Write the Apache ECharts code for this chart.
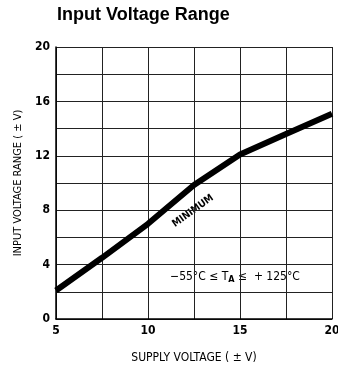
<!DOCTYPE html>
<html>
<head>
<meta charset="utf-8">
<script src="https://cdn.jsdelivr.net/npm/echarts@6/dist/echarts.min.js"></script>
<style>
html,body{margin:0;padding:0;background:#fff;}
#chart{width:338px;height:370px;}
</style>
</head>
<body>
<div id="chart"></div>
<script>
// supply voltage (±V) vs minimum input voltage range (±V)
var supplyV = [5, 7.5, 10, 12.5, 15, 17.5, 20];
var inputRange = [2.1, 4.5, 7.0, 9.85, 12.1, 13.6, 15.1];
var xLabels = [5, 10, 15, 20];
var yLabels = [0, 4, 8, 12, 16, 20];

var narrow = '"DejaVu Sans Condensed","Liberation Sans Narrow","Roboto Condensed",sans-serif';

var myChart = echarts.init(document.getElementById('chart'));
var pts = [];
for (var i = 0; i < supplyV.length; i++) {
    pts.push([supplyV[i], inputRange[i]]);
}
var option = {
    backgroundColor: '#fff',
    animation: false,
    title: {
        text: 'Input Voltage Range',
        left: 52,
        top: 1,
        textStyle: {
            fontFamily: '"Liberation Sans",Arial,sans-serif',
            fontSize: 18,
            fontWeight: 'bold',
            color: '#000'
        }
    },
    grid: {left: 56, right: 6, top: 47, bottom: 51, outerBoundsMode: 'none', containLabel: false},
    xAxis: {
        type: 'value',
        min: 5, max: 20, interval: 2.5,
        name: 'SUPPLY VOLTAGE ( \u00b1 V)',
        nameLocation: 'middle',
        nameGap: 33,
        nameTextStyle: {fontFamily: narrow, fontSize: 12, color: '#000'},
        axisLine: {lineStyle: {color: '#000', width: 1.5}},
        axisTick: {show: false},
        axisLabel: {
            color: '#000', fontFamily: narrow, fontSize: 12, fontWeight: 'bold', margin: 6,
            formatter: function (v) {
                return xLabels.indexOf(v) >= 0 ? String(v) : '';
            }
        },
        splitLine: {show: true, lineStyle: {color: '#222', width: 1}}
    },
    yAxis: {
        type: 'value',
        min: 0, max: 20, interval: 2,
        name: 'INPUT VOLTAGE RANGE ( \u00b1 V)',
        nameLocation: 'middle',
        nameGap: 30,
        nameTextStyle: {fontFamily: narrow, fontSize: 11, color: '#000'},
        axisLine: {show: true, lineStyle: {color: '#000', width: 1.5}},
        axisTick: {show: false},
        axisLabel: {
            color: '#000', fontFamily: narrow, fontSize: 12, fontWeight: 'bold', margin: 6,
            formatter: function (v) {
                return yLabels.indexOf(v) >= 0 ? String(v) : '';
            }
        },
        splitLine: {show: true, lineStyle: {color: '#222', width: 1}}
    },
    series: [{
        name: 'MINIMUM',
        type: 'line',
        data: pts,
        symbol: 'none',
        smooth: false,
        lineStyle: {color: '#000', width: 6}
    }],
    graphic: [
        {
            type: 'text',
            x: 193, y: 211,
            rotation: 36 * Math.PI / 180,
            style: {
                text: 'MINIMUM',
                fontFamily: narrow,
                fontSize: 10,
                fontWeight: 'bold',
                fill: '#000',
                align: 'center',
                verticalAlign: 'middle'
            }
        },
        {
            type: 'text',
            x: 235, y: 277,
            style: {
                text: '{n|\u221255\u00b0C \u2264 T}{s|A}{n| \u2264  + 125\u00b0C}',
                align: 'center',
                verticalAlign: 'middle',
                rich: {
                    n: {fontFamily: narrow, fontSize: 12, fill: '#000'},
                    s: {fontFamily: narrow, fontSize: 9, fontWeight: 'bold', fill: '#000', padding: [5, 0, 0, 0]}
                },
                backgroundColor: '#fff',
                padding: [1, 2]
            }
        }
    ]
};
myChart.setOption(option);
</script>
</body>
</html>
